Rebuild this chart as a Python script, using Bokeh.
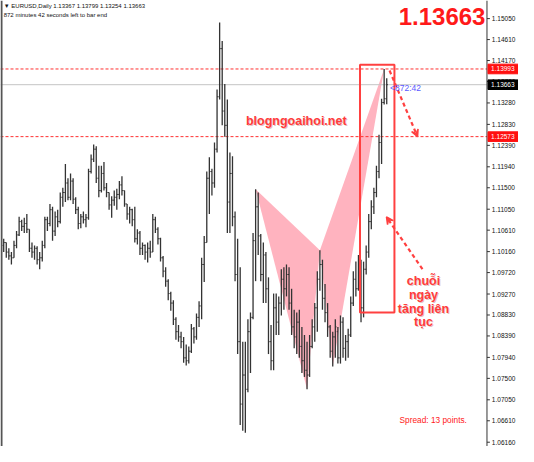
from bokeh.plotting import figure
from bokeh.models import Range1d, Span, Label, Arrow, VeeHead, BoxAnnotation, ColumnDataSource
from bokeh.core.properties import value
from bokeh.embed import file_html
from bokeh.resources import INLINE

# ---- daily EURUSD bars ----
highs = [1.1043, 1.1035, 1.1023, 1.1015, 1.1039, 1.1059, 1.1089, 1.1083, 1.1087, 1.1095,
         1.1063, 1.1035, 1.1029, 1.1027, 1.1015, 1.1039, 1.1089, 1.1089, 1.1116, 1.1110,
         1.1100, 1.1104, 1.1140, 1.1150, 1.1200, 1.1170, 1.1180, 1.1170, 1.1130, 1.1110,
         1.1095, 1.1100, 1.1095, 1.1190, 1.1220, 1.1241, 1.1237, 1.1196, 1.1196, 1.1204,
         1.1160, 1.1140, 1.1132, 1.1144, 1.1148, 1.1164, 1.1174, 1.1144, 1.1116, 1.1110,
         1.1106, 1.1110, 1.1063, 1.1059, 1.1035, 1.1031, 1.1035, 1.1039, 1.1095, 1.1089,
         1.1067, 1.1045, 1.1007, 1.0983, 1.0958, 1.0932, 1.0914, 1.0878, 1.0862, 1.0848,
         1.0837, 1.0821, 1.0817, 1.0864, 1.0858, 1.0886, 1.0912, 1.1003, 1.1049, 1.1184,
         1.1214, 1.1190, 1.1245, 1.1356, 1.1497, 1.1458, 1.1368, 1.1335, 1.1224, 1.1216,
         1.1100, 1.1043, 1.0983, 1.0827, 1.0827, 1.0874, 1.0888, 1.1055, 1.1147, 1.1140,
         1.1053, 1.1035, 1.1015, 1.0962, 1.0862, 1.0928, 1.0928, 1.0922, 1.0979, 1.0983,
         1.0989, 1.0983, 1.0938, 1.0894, 1.0888, 1.0894, 1.0858, 1.0841, 1.0827, 1.0841,
         1.0874, 1.0908, 1.0975, 1.1019, 1.0999, 1.0948, 1.0908, 1.0862, 1.0848, 1.0874,
         1.0858, 1.0882, 1.0878, 1.0841, 1.0854, 1.0922, 1.0975, 1.0995, 1.1009, 1.0999,
         1.0995, 1.1029, 1.1095, 1.1124, 1.1150, 1.1196, 1.1261, 1.1337, 1.1399, 1.13799]
lows = [1.1015, 1.1003, 1.0999, 1.0989, 1.1003, 1.1023, 1.1049, 1.1059, 1.1055, 1.1055,
        1.1015, 1.1003, 1.0999, 1.0989, 1.0979, 1.0995, 1.1023, 1.1059, 1.1069, 1.1039,
        1.1049, 1.1067, 1.1075, 1.1110, 1.1120, 1.1124, 1.1124, 1.1116, 1.1095, 1.1063,
        1.1065, 1.1075, 1.1067, 1.1083, 1.1180, 1.1204, 1.1160, 1.1130, 1.1140, 1.1144,
        1.1130, 1.1104, 1.1087, 1.1112, 1.1104, 1.1126, 1.1134, 1.1110, 1.1083, 1.1075,
        1.1069, 1.1035, 1.1031, 1.1009, 1.1009, 1.0999, 1.0993, 1.1003, 1.1015, 1.1055,
        1.1031, 1.0995, 1.0962, 1.0942, 1.0914, 1.0892, 1.0862, 1.0831, 1.0827, 1.0813,
        1.0783, 1.0777, 1.0781, 1.0803, 1.0823, 1.0831, 1.0858, 1.0874, 1.0952, 1.1035,
        1.1095, 1.1134, 1.1150, 1.1224, 1.1335, 1.1281, 1.1257, 1.1055, 1.1055, 1.1069,
        1.0954, 1.0801, 1.0652, 1.0640, 1.0636, 1.0721, 1.0761, 1.0874, 1.0954, 1.1009,
        1.0954, 1.0908, 1.0908, 1.0801, 1.0767, 1.0767, 1.0841, 1.0841, 1.0882, 1.0894,
        1.0922, 1.0894, 1.0841, 1.0813, 1.0801, 1.0793, 1.0761, 1.0753, 1.0727, 1.0753,
        1.0813, 1.0827, 1.0848, 1.0934, 1.0894, 1.0868, 1.0837, 1.0793, 1.0775, 1.0793,
        1.0781, 1.0781, 1.0793, 1.0787, 1.0793, 1.0837, 1.0902, 1.0922, 1.0934, 1.0868,
        1.0878, 1.0968, 1.1003, 1.1063, 1.1095, 1.1130, 1.1170, 1.1200, 1.1325, 1.13254]
opens = [1.1029, 1.1035, 1.1015, 1.1007, 1.1003, 1.1029, 1.1051, 1.1079, 1.1069, 1.1075,
         1.1063, 1.1023, 1.1015, 1.1023, 1.0999, 1.1003, 1.1029, 1.1083, 1.1075, 1.1104,
         1.1059, 1.1089, 1.1079, 1.1130, 1.1140, 1.1160, 1.1130, 1.1164, 1.1126, 1.1104,
         1.1075, 1.1089, 1.1083, 1.1087, 1.1184, 1.1210, 1.1231, 1.1170, 1.1144, 1.1180,
         1.1150, 1.1140, 1.1114, 1.1124, 1.1130, 1.1136, 1.1156, 1.1144, 1.1116, 1.1095,
         1.1104, 1.1083, 1.1043, 1.1055, 1.1023, 1.1029, 1.1015, 1.1023, 1.1015, 1.1083,
         1.1063, 1.1043, 1.1003, 1.0975, 1.0954, 1.0928, 1.0908, 1.0874, 1.0848, 1.0837,
         1.0827, 1.0793, 1.0787, 1.0807, 1.0854, 1.0837, 1.0878, 1.0902, 1.0989, 1.1035,
         1.1170, 1.1184, 1.1160, 1.1231, 1.1341, 1.1442, 1.1311, 1.1281, 1.1120, 1.1180,
         1.1089, 1.0968, 1.0827, 1.0696, 1.0757, 1.0727, 1.0848, 1.0878, 1.1039, 1.1110,
         1.1049, 1.0968, 1.1009, 1.0938, 1.0827, 1.0787, 1.0898, 1.0868, 1.0908, 1.0958,
         1.0938, 1.0968, 1.0908, 1.0858, 1.0837, 1.0868, 1.0817, 1.0787, 1.0767, 1.0757,
         1.0817, 1.0858, 1.0898, 1.0958, 1.0989, 1.0918, 1.0888, 1.0858, 1.0807, 1.0837,
         1.0848, 1.0793, 1.0868, 1.0813, 1.0827, 1.0841, 1.0908, 1.0958, 1.0938, 1.0989,
         1.0898, 1.0979, 1.1015, 1.1079, 1.1110, 1.1140, 1.1184, 1.1245, 1.1329, 1.13367]
closes = [1.1035, 1.1015, 1.1007, 1.1003, 1.1029, 1.1051, 1.1079, 1.1069, 1.1075, 1.1063,
          1.1023, 1.1015, 1.1023, 1.0999, 1.1003, 1.1029, 1.1083, 1.1075, 1.1104, 1.1059,
          1.1089, 1.1079, 1.1130, 1.1140, 1.1160, 1.1130, 1.1164, 1.1126, 1.1104, 1.1075,
          1.1089, 1.1083, 1.1087, 1.1184, 1.1210, 1.1231, 1.1170, 1.1144, 1.1180, 1.1150,
          1.1140, 1.1114, 1.1124, 1.1130, 1.1136, 1.1156, 1.1144, 1.1116, 1.1095, 1.1104,
          1.1083, 1.1043, 1.1055, 1.1023, 1.1029, 1.1015, 1.1023, 1.1015, 1.1083, 1.1063,
          1.1043, 1.1003, 1.0975, 1.0954, 1.0928, 1.0908, 1.0874, 1.0848, 1.0837, 1.0827,
          1.0793, 1.0787, 1.0807, 1.0854, 1.0837, 1.0878, 1.0902, 1.0989, 1.1035, 1.1170,
          1.1184, 1.1160, 1.1231, 1.1341, 1.1442, 1.1311, 1.1281, 1.1120, 1.1180, 1.1089,
          1.0968, 1.0827, 1.0696, 1.0757, 1.0727, 1.0848, 1.0878, 1.1039, 1.1110, 1.1049,
          1.0968, 1.1009, 1.0938, 1.0827, 1.0787, 1.0898, 1.0868, 1.0908, 1.0958, 1.0938,
          1.0968, 1.0908, 1.0858, 1.0837, 1.0868, 1.0817, 1.0787, 1.0767, 1.0757, 1.0817,
          1.0858, 1.0898, 1.0958, 1.0989, 1.0918, 1.0888, 1.0858, 1.0807, 1.0837, 1.0858,
          1.0793, 1.0868, 1.0813, 1.0827, 1.0841, 1.0908, 1.0958, 1.0938, 1.0989, 1.0898,
          1.0979, 1.1015, 1.1079, 1.1110, 1.1140, 1.1184, 1.1245, 1.1329, 1.1337, 1.13663]
bar_index = list(range(len(highs)))

# harmonic pattern points X, A, B, C, D (bar index, price)
pattern_idx = [98, 118, 123, 128, 148]
pattern_price = [1.1147, 1.0727, 1.1019, 1.0775, 1.1399]

ytick_values = [1.15050, 1.14610, 1.14170, 1.13730, 1.13280, 1.12830, 1.12390, 1.11940,
                1.11500, 1.11050, 1.10610, 1.10160, 1.09720, 1.09270, 1.08830, 1.08390,
                1.07940, 1.07500, 1.07050, 1.06610, 1.06160]
level_lines = [1.13993, 1.12573]
bid_price = 1.13663
spread_points = 13
time_left = "872:42"

FONT = "Liberation Sans"
RED = "#ff3b3b"

X0, X1 = -1.245, 200.26          # whole chart window incl. price scale
Y0, Y1 = 1.0607, 1.1543
AXIS_X = 188.0                    # position of the price scale
TICK_LEN = 1.13
LABEL_X = 189.9
TAG_HALF = 0.00101

p = figure(width=518, height=446, output_backend="svg", toolbar_location=None,
           x_range=Range1d(X0, X1), y_range=Range1d(Y0, Y1), min_border=0)
p.xaxis.visible = False
p.yaxis.visible = False
p.grid.visible = False
p.outline_line_color = None
p.background_fill_color = "white"
p.border_fill_color = "white"

# left window border
p.add_layout(Span(location=-0.85, dimension="height", line_color="#555555", line_width=2))

# harmonic pattern triangles
tri_x = [[pattern_idx[0], pattern_idx[1], pattern_idx[2]],
         [pattern_idx[2], pattern_idx[3], pattern_idx[4]]]
tri_y = [[pattern_price[0], pattern_price[1], pattern_price[2]],
         [pattern_price[2], pattern_price[3], pattern_price[4]]]
p.patches(tri_x, tri_y, fill_color="#ffb3bf", line_color=None)

# level lines (stop at the price scale)
for lv in level_lines:
    p.segment(x0=X0, y0=lv, x1=AXIS_X, y1=lv, line_color="#ff3030", line_width=1, line_dash="3 2")
p.segment(x0=X0, y0=bid_price, x1=AXIS_X, y1=bid_price, line_color="#c4c4c4", line_width=1)

# OHLC bars
src = ColumnDataSource(dict(x=bar_index, h=highs, l=lows, o=opens, c=closes,
                            xl=[i - 0.45 for i in bar_index], xr=[i + 0.45 for i in bar_index]))
bar_col = "#333333"
p.segment(x0="x", y0="l", x1="x", y1="h", source=src, line_color=bar_col, line_width=1.3)
p.segment(x0="xl", y0="o", x1="x", y1="o", source=src, line_color=bar_col, line_width=1)
p.segment(x0="x", y0="c", x1="xr", y1="c", source=src, line_color=bar_col, line_width=1)

# ---- price scale on the right ----
p.segment(x0=AXIS_X, y0=Y0, x1=AXIS_X, y1=Y1, line_color="#333333", line_width=1)
tick_src = ColumnDataSource(dict(y=ytick_values, x0=[AXIS_X] * len(ytick_values),
                                 x1=[AXIS_X + TICK_LEN] * len(ytick_values),
                                 lx=[LABEL_X] * len(ytick_values),
                                 t=["%.5f" % v for v in ytick_values]))
p.segment(x0="x0", y0="y", x1="x1", y1="y", source=tick_src, line_color="#333333", line_width=1)
p.text(x="lx", y="y", text="t", source=tick_src, text_font=value(FONT), text_font_size="6.5px",
       text_color="#111111", text_align="left", text_baseline="middle")

# price tags
tag_vals = [level_lines[0], level_lines[1], bid_price]
tag_src = ColumnDataSource(dict(y=tag_vals, top=[v + TAG_HALF for v in tag_vals],
                                bottom=[v - TAG_HALF for v in tag_vals],
                                left=[AXIS_X + 0.4] * 3, right=[X1] * 3,
                                lx=[LABEL_X - 0.3] * 3, t=["%.5f" % v for v in tag_vals],
                                bg=["#ff1010", "#ff1010", "#000000"]))
p.quad(left="left", right="right", top="top", bottom="bottom", source=tag_src,
       fill_color="bg", line_color="bg")
p.text(x="lx", y="y", text="t", source=tag_src, text_font=value(FONT), text_font_size="6.5px",
       text_color="white", text_align="left", text_baseline="middle")

# highlight box around the rally
p.add_layout(BoxAnnotation(left=138.6, right=152.0, top=1.1408, bottom=1.0888,
                           fill_alpha=0, line_color="#ff4040", line_alpha=1, line_width=2))

# dashed arrows
p.add_layout(Arrow(end=VeeHead(size=7, line_color="#ff4040", fill_color="#ff4040", line_width=1.5),
                   x_start=150.1, y_start=1.1396, x_end=161.0, y_end=1.1257,
                   line_color="#ff4040", line_width=2.2, line_dash="4 3"))
p.add_layout(Arrow(end=VeeHead(size=7, line_color="#ff4040", fill_color="#ff4040", line_width=1.5),
                   x_start=162.9, y_start=1.0979, x_end=148.9, y_end=1.1089,
                   line_color="#ff4040", line_width=2.2, line_dash="4 3"))

def shadow_label(x, y, text, size, align="center"):
    p.add_layout(Label(x=x, y=y, text=text, text_font=FONT, text_font_size=size,
                       text_font_style="bold", text_color="#a03030", text_alpha=0.3,
                       text_align=align, text_baseline="middle", x_offset=1, y_offset=-1))
    p.add_layout(Label(x=x, y=y, text=text, text_font=FONT, text_font_size=size,
                       text_font_style="bold", text_color=RED,
                       text_align=align, text_baseline="middle"))

shadow_label(113.8, 1.1291, "blogngoaihoi.net", "12.5px")
for txt, yy in [("chuỗi", 1.0954), ("ngày", 1.0924), ("tăng liên", 1.0896), ("tục", 1.0868)]:
    shadow_label(163.3, yy, txt, "12.5px")

# header texts
p.add_layout(Label(x=0.0, y=1.1532, text="▼ EURUSD,Daily  %.5f %.5f %.5f %.5f" % (opens[-1], highs[-1], lows[-1], closes[-1]),
                   text_font=FONT, text_font_size="6px", text_color="#111111",
                   text_align="left", text_baseline="middle"))
p.add_layout(Label(x=0.0, y=1.1513, text="872 minutes 42 seconds left to bar end",
                   text_font=FONT, text_font_size="6px", text_color="#111111",
                   text_align="left", text_baseline="middle"))

# big current price
p.add_layout(Label(x=187.4, y=1.1509, text="%.5f" % bid_price, text_font=FONT,
                   text_font_size="24px", text_font_style="bold", text_color="#ff1a1a",
                   text_align="right", text_baseline="middle"))

# time left to bar end
p.add_layout(Label(x=150.3, y=1.1360, text="<" + time_left, text_font=FONT,
                   text_font_size="8.5px", text_color="#5a5aff",
                   text_align="left", text_baseline="middle"))

# spread
p.add_layout(Label(x=167.1, y=1.0662, text="Spread: %d points." % spread_points, text_font=FONT,
                   text_font_size="8.3px", text_color="#ff2020",
                   text_align="center", text_baseline="middle"))

open("out.html", "w").write(file_html(p, INLINE))
